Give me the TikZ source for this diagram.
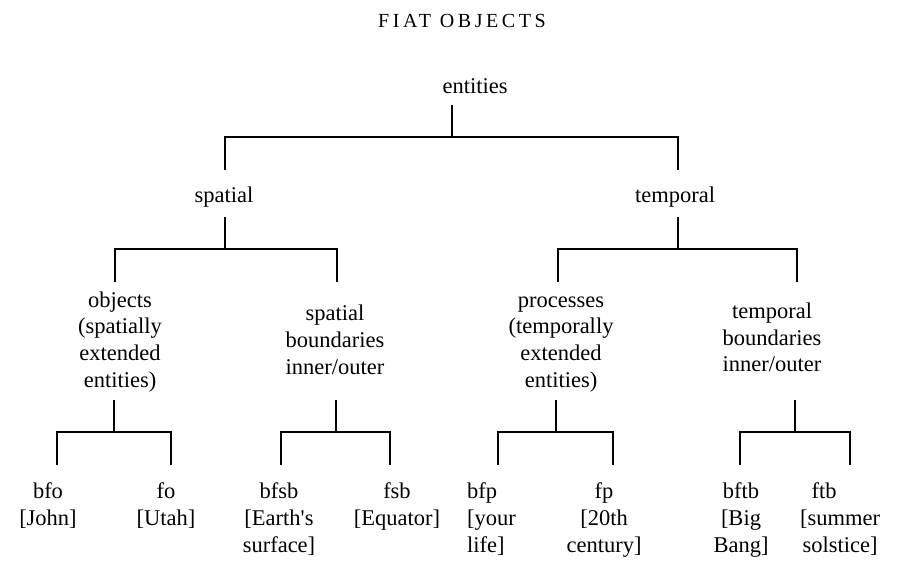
\documentclass[tikz,border=0pt]{standalone}
\usepackage{fontspec}
\setmainfont{Liberation Serif}
\begin{document}
\begin{tikzpicture}[x=1pt,y=-1pt,
  lbl/.style={font=\fontsize{22.5}{27}\selectfont, inner sep=0pt, align=center, anchor=base},
  ttl/.style={font=\fontsize{20}{22}\selectfont\addfontfeature{LetterSpace=18}, inner sep=0pt, anchor=base},
  tree/.style={line width=2.2pt, line cap=butt}]
\useasboundingbox (0,0) rectangle (900,569);
% texts (anchor = baseline of the last line)
\node[ttl] (title) at (462,28) {FIAT OBJECTS};
\node[lbl] (ent) at (475,94) {entities};
\node[lbl] (spa) at (224,203) {spatial};
\node[lbl] (tem) at (675,203) {temporal};
\node[lbl] (obj) at (120,388) {objects\\(spatially\\extended\\entities)};
\node[lbl] (sbd) at (335,374) {spatial\\boundaries\\inner/outer};
\node[lbl] (pro) at (561,388) {processes\\(temporally\\extended\\entities)};
\node[lbl] (tbd) at (772,372) {temporal\\boundaries\\inner/outer};
\node[lbl] (bfo) at (48,525) {bfo\\{[}John{]}};
\node[lbl] (fo) at (166,525) {fo\\{[}Utah{]}};
\node[lbl] (bfsb) at (279,552) {bfsb\\{[}Earth\textquotesingle s\\surface{]}};
\node[lbl] (fsb) at (397,525) {fsb\\{[}Equator{]}};
\node[lbl, align=left, anchor=base west] (bfp) at (467,552) {bfp\\{[}your\\life{]}};
\node[lbl] (fp) at (604,552) {fp\\{[}20th\\century{]}};
\node[lbl] (bftb) at (741,552) {bftb\\{[}Big\\Bang{]}};
\node[lbl] (ftb) at (840,552) {ftb\hspace*{32pt}\\{[}summer\\solstice{]}};
% level 1
\coordinate (k0) at (452,105);
\coordinate (j0) at (452,137);
\coordinate (a0) at (225,170);
\coordinate (b0) at (678,170);
\draw[tree] (k0) -- (j0);
\draw[tree] (a0) |- (j0) -| (b0);
% level 2 left
\coordinate (k1) at (225,217);
\coordinate (j1) at (225,249);
\coordinate (a1) at (115,282);
\coordinate (b1) at (337,282);
\draw[tree] (k1) -- (j1);
\draw[tree] (a1) |- (j1) -| (b1);
% level 2 right
\coordinate (k2) at (678,217);
\coordinate (j2) at (678,249);
\coordinate (a2) at (558,282);
\coordinate (b2) at (797,282);
\draw[tree] (k2) -- (j2);
\draw[tree] (a2) |- (j2) -| (b2);
% level 3
\coordinate (k3) at (114,400);
\coordinate (j3) at (114,432);
\coordinate (a3) at (57,465);
\coordinate (b3) at (171,465);
\draw[tree] (k3) -- (j3);
\draw[tree] (a3) |- (j3) -| (b3);
\coordinate (k4) at (336,400);
\coordinate (j4) at (336,432);
\coordinate (a4) at (281,465);
\coordinate (b4) at (390,465);
\draw[tree] (k4) -- (j4);
\draw[tree] (a4) |- (j4) -| (b4);
\coordinate (k5) at (556,400);
\coordinate (j5) at (556,432);
\coordinate (a5) at (498,465);
\coordinate (b5) at (613,465);
\draw[tree] (k5) -- (j5);
\draw[tree] (a5) |- (j5) -| (b5);
\coordinate (k6) at (795,400);
\coordinate (j6) at (795,432);
\coordinate (a6) at (740,465);
\coordinate (b6) at (850,465);
\draw[tree] (k6) -- (j6);
\draw[tree] (a6) |- (j6) -| (b6);
\end{tikzpicture}
\end{document}
